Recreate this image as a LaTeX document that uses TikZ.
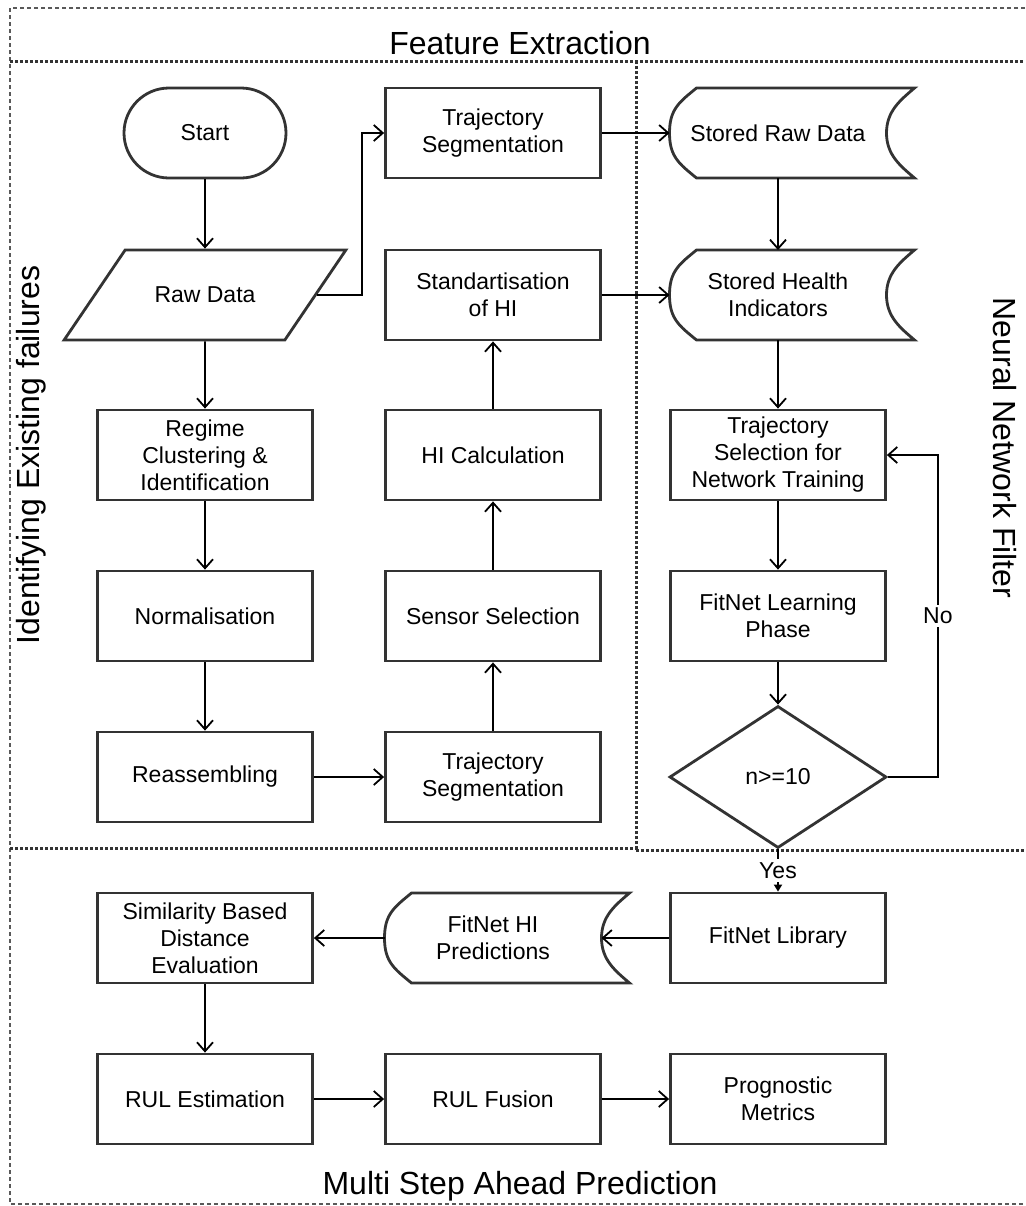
\documentclass[tikz,border=0pt]{standalone}
\usepackage{fontspec}
\setmainfont{Liberation Sans}
\usetikzlibrary{arrows.meta,shapes.geometric,calc}
\newcommand{\drawstored}[1]{%
  \draw[storedline] ($(#1.north west)+(27,0)$) -- ($(#1.north east)+(28,0)$)
    .. controls ($(#1.north east)+(14,12)$) and ($(#1.east)+(0,-22)$) .. (#1.east)
    .. controls ($(#1.east)+(0,22)$) and ($(#1.south east)+(14,-12)$) .. ($(#1.south east)+(28,0)$)
    -- ($(#1.south west)+(27,0)$)
    .. controls ($(#1.south west)+(10,-14)$) and ($(#1.west)+(0,24)$) .. (#1.west)
    .. controls ($(#1.west)+(0,-24)$) and ($(#1.north west)+(10,14)$) .. ($(#1.north west)+(27,0)$)
    -- cycle;}

\begin{document}
\begin{tikzpicture}[
    x=0.5pt,
    y=-0.5pt,
    >={Straight Barb[length=4.5pt,width=8pt]},
    conn/.style={line width=0.9pt},
    box/.style={draw=black!80, line width=1.4pt, minimum width=107.5pt, minimum height=45pt, align=center, inner sep=2pt, font=\fontsize{11.5}{13.5}\selectfont},
    term/.style={box, rounded corners=22.5pt, minimum width=81pt},
    io/.style={box, trapezium, trapezium left angle=30, trapezium right angle=150, trapezium stretches=true, minimum width=141pt},
    stored/.style={minimum width=108.5pt, minimum height=45pt, align=center, inner sep=0pt, outer sep=0pt, font=\fontsize{11.5}{13.5}\selectfont},
    storedline/.style={draw=black!80, line width=1.4pt},
    decision/.style={box, diamond, minimum width=108.5pt, minimum height=71pt, inner sep=0pt},
    lbl/.style={fill=white, inner sep=1.5pt, font=\fontsize{11.5}{13.5}\selectfont},
    heading/.style={font=\fontsize{16}{19}\selectfont},
    areadot/.style={draw=black!80, line width=1.5pt, dash pattern=on 1.5pt off 1pt},
    framedash/.style={draw=black!65, line width=0.7pt, dash pattern=on 2pt off 1.5pt}
]
\useasboundingbox (0,0) rectangle (1025,1206);
\draw[framedash] (1025,8) -- (10,8) -- (10,1204) -- (1025,1204);
\draw[areadot] (10,61) -- (1025,61);
\draw[areadot] (10,848) -- (636,848) -- (636,61);
\draw[areadot] (636,850) -- (1025,850);
\node[heading] (fe) at (520,43) {Feature Extraction};
\node[heading, rotate=90] (ief) at (31,455) {Identifying Existing failures};
\node[heading, rotate=-90] (nnf) at (1005,448) {Neural Network Filter};
\node[heading] (msap) at (520,1186) {Multi Step Ahead Prediction};
\node[term] (start) at (205,133) {Start};
\node[io] (raw) at (205,295) {Raw Data};
\node[box] (reg) at (205,455) {Regime\\ Clustering \&\\ Identification};
\node[box] (norm) at (205,616) {Normalisation};
\node[box] (reas) at (205,777) {Reassembling};
\node[box] (seg1) at (493,133) {Trajectory\\ Segmentation};
\node[box] (std) at (493,295) {Standartisation\\ of HI};
\node[box] (hic) at (493,455) {HI Calculation};
\node[box] (sens) at (493,616) {Sensor Selection};
\node[box] (seg2) at (493,777) {Trajectory\\ Segmentation};
\node[stored] (srd) at (778,133) {Stored Raw Data};
\node[stored] (shi) at (778,295) {Stored Health\\ Indicators};
\node[box] (tsel) at (778,455) {Trajectory\\ Selection for\\ Network Training};
\node[box] (learn) at (778,616) {FitNet Learning\\ Phase};
\node[decision] (dec) at (778,777) {n>=10};
\node[box] (lib) at (778,938) {FitNet Library};
\node[stored] (pred) at (493,938) {FitNet HI\\ Predictions};
\node[box] (sim) at (205,938) {Similarity Based\\ Distance\\ Evaluation};
\node[box] (rul) at (205,1099) {RUL Estimation};
\node[box] (fus) at (493,1099) {RUL Fusion};
\node[box] (met) at (778,1099) {Prognostic\\ Metrics};
\drawstored{srd}
\drawstored{shi}
\drawstored{pred}
\draw[->, conn] (start) -- (raw);
\draw[->, conn] (raw) -- (362,295) |- (seg1);
\draw[->, conn] (raw) -- (reg);
\draw[->, conn] (reg) -- (norm);
\draw[->, conn] (norm) -- (reas);
\draw[->, conn] (reas) -- (seg2);
\draw[->, conn] (seg2) -- (sens);
\draw[->, conn] (sens) -- (hic);
\draw[->, conn] (hic) -- (std);
\draw[->, conn] (seg1) -- (srd);
\draw[->, conn] (std) -- (shi);
\draw[->, conn] (srd) -- (shi);
\draw[->, conn] (shi) -- (tsel);
\draw[->, conn] (tsel) -- (learn);
\draw[->, conn] (learn) -- (dec);
\draw[->, conn] (dec.east) -- ++(50,0) |- node[lbl, pos=0.25] {No} (tsel);
\draw[conn, -{Triangle[length=3.5pt,width=4pt]}] (dec) -- node[lbl] {Yes} (lib);
\draw[->, conn] (lib) -- (pred);
\draw[->, conn] (pred) -- (sim);
\draw[->, conn] (sim) -- (rul);
\draw[->, conn] (rul) -- (fus);
\draw[->, conn] (fus) -- (met);
\end{tikzpicture}
\end{document}
